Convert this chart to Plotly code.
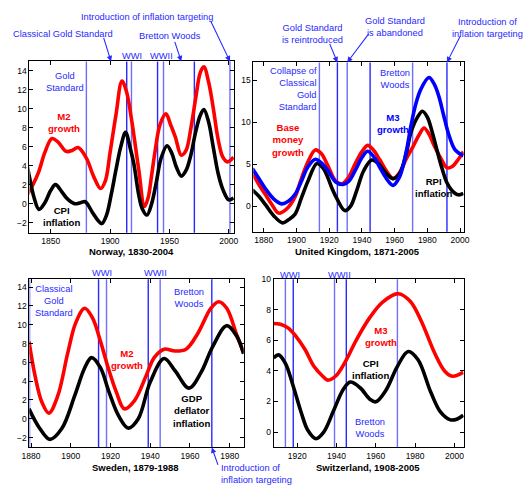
import plotly.graph_objects as go

W, H = 530, 485
FONT = "Liberation Sans, Arial, sans-serif"
BLUE = "rgb(40,40,255)"
LBLUE = "rgb(110,110,255)"

# ---------------- data ----------------
nor_m2_years = [1830, 1835, 1840, 1845, 1851, 1856, 1863, 1868, 1873, 1880, 1886, 1892, 1896, 1900, 1905,
                1910, 1914, 1918, 1924, 1929, 1932, 1935, 1938, 1942, 1947, 1951, 1955, 1960, 1964, 1968,
                1972, 1976, 1979, 1983, 1987, 1991, 1995, 1999, 2004]
nor_m2 = [0.9, 2.0, 3.4, 5.4, 6.85, 6.5, 5.5, 5.6, 5.9, 4.8, 2.9, 1.6, 2.4, 5.4, 9.4,
          12.9, 11.7, 8.9, 3.7, -0.3, 0.6, 3.0, 5.6, 8.3, 9.45, 8.3, 7.0, 5.1, 5.6, 7.9,
          11.0, 13.8, 14.4, 12.8, 10.0, 6.8, 4.9, 4.4, 4.9]
nor_cpi_years = [1830, 1833, 1836, 1840, 1845, 1850, 1854, 1859, 1864, 1870, 1875, 1879, 1885, 1890, 1893,
                 1897, 1901, 1905, 1909, 1913, 1917, 1920, 1924, 1927, 1931, 1935, 1939, 1943, 1948, 1952,
                 1956, 1960, 1964, 1968, 1972, 1976, 1979, 1983, 1987, 1991, 1995, 2000, 2004]
nor_cpi = [4.1, 2.2, 0.6, -0.6, 0.1, 1.4, 2.0, 1.3, 0.5, 0.0, 0.1, 0.2, -0.9, -1.8, -2.1,
           -1.2, 1.0, 3.6, 6.0, 7.5, 5.8, 4.2, 1.0, -0.5, -1.2, 0.0, 2.3, 4.8, 6.1, 5.3,
           3.8, 2.9, 3.5, 5.1, 7.5, 9.3, 9.9, 8.6, 5.9, 3.2, 1.5, 0.4, 0.6]
nor_events = [1880, 1914, 1918, 1940, 1945, 1971, 2001]

uk_base_years = [1873, 1877, 1881, 1885, 1889, 1894, 1899, 1903, 1907, 1911.5, 1915, 1919, 1924, 1928, 1932,
                 1936, 1940, 1943.5, 1947, 1951, 1955, 1959, 1963, 1967, 1971, 1975, 1978, 1981, 1984, 1988,
                 1992, 1995, 1999, 2002]
uk_base = [4.0, 2.6, 1.4, 0.2, -0.8, -0.3, 1.1, 3.3, 5.3, 6.7, 6.3, 4.9, 3.0, 2.7, 3.5,
           5.1, 6.5, 7.25, 6.7, 5.5, 4.2, 3.3, 4.0, 5.6, 7.0, 8.5, 9.3, 8.6, 7.3, 5.8,
           4.6, 4.7, 5.6, 6.5]
uk_m3_years = [1873, 1877, 1881, 1886, 1891, 1895, 1899, 1903, 1907, 1911.5, 1915, 1919, 1924, 1928.5, 1932,
               1936, 1940, 1943.5, 1948, 1951, 1955, 1959, 1963, 1967, 1970, 1973, 1976, 1981, 1984, 1987,
               1990, 1993, 1997, 2002]
uk_m3 = [4.5, 3.3, 2.1, 0.9, 0.3, 0.6, 1.4, 3.0, 4.7, 5.6, 5.2, 4.3, 2.9, 2.6, 3.0,
         4.3, 5.8, 6.55, 5.7, 4.6, 3.3, 2.5, 3.5, 6.4, 9.6, 12.2, 13.9, 15.3, 14.6, 13.1,
         10.8, 8.6, 6.7, 6.0]
uk_rpi_years = [1873, 1877, 1881, 1886, 1891.5, 1895, 1899, 1903, 1907, 1912.5, 1916, 1919, 1922, 1925, 1929.5,
                1933, 1937, 1941, 1946, 1950, 1954, 1959, 1963, 1967, 1970, 1974, 1977, 1980, 1983, 1986,
                1989, 1992, 1995, 1999, 2002]
uk_rpi = [1.96, 1.2, 0.2, -1.1, -1.96, -1.6, -0.95, 1.0, 3.0, 5.1, 4.6, 3.5, 2.0, 0.8, -0.5,
          0.0, 2.0, 4.2, 5.5, 5.1, 4.1, 3.3, 3.9, 6.2, 8.8, 10.6, 11.3, 10.6, 8.8, 6.6,
          4.5, 2.8, 1.9, 1.37, 1.55]
uk_events = [1914, 1925, 1931, 1945, 1971, 1992]

swe_m2_years = [1879, 1882, 1885.5, 1889, 1893.5, 1898.5, 1902.5, 1907, 1911, 1915, 1919, 1923, 1927, 1932, 1938,
                1942, 1947, 1952.5, 1958, 1964, 1970.5, 1974.5, 1978.5, 1983.5, 1987]
swe_m2 = [8.2, 4.6, 1.75, 0.6, 2.45, 7.0, 10.2, 11.75, 10.7, 8.2, 5.3, 2.8, 1.05, 1.9, 4.6,
          6.5, 7.4, 7.2, 7.4, 9.1, 11.75, 12.45, 11.75, 8.95, 7.0]
swe_gdp_years = [1879, 1884, 1889.5, 1895.5, 1902, 1907, 1910.5, 1915, 1919, 1924, 1929, 1934, 1940, 1947,
                 1952.5, 1959.5, 1965.5, 1971.5, 1978.5, 1983.5, 1987]
swe_gdp = [1.05, -0.9, -2.2, -1.05, 2.45, 5.4, 6.5, 5.4, 3.0, 0.35, -1.0, 0.0, 3.9, 6.4,
           5.1, 3.25, 4.9, 7.7, 9.9, 8.8, 6.9]
swe_events = [1879.3, 1914, 1918, 1939, 1945, 1971]

swi_m3_years = [1908, 1911.5, 1915.5, 1919.5, 1924, 1928.5, 1933, 1935.5, 1939.5, 1944.5, 1950, 1957, 1963.5,
                1971.5, 1977.5, 1983, 1990, 1995, 1999, 2004.5]
swi_m3 = [7.1, 7.05, 6.8, 6.25, 5.4, 4.3, 3.65, 3.4, 3.65, 4.6, 6.0, 7.5, 8.5,
          9.05, 8.55, 7.3, 5.15, 4.0, 3.65, 3.9]
swi_cpi_years = [1908, 1910.5, 1914, 1918, 1922, 1925.5, 1929.5, 1933.5, 1938.5, 1943.5, 1947, 1952, 1957,
                 1960, 1965, 1971, 1976.5, 1981.5, 1988, 1993, 1998, 2001.5, 2004.5]
swi_cpi = [4.85, 5.05, 4.5, 3.0, 1.3, 0.1, -0.43, 0.0, 1.4, 2.8, 3.27, 2.9, 2.15,
           1.98, 2.7, 4.3, 5.27, 4.73, 2.6, 1.3, 0.8, 0.86, 1.1]
swi_events = [1914, 1918, 1939, 1945, 1971]

# ---------------- layout geometry (pixels) ----------------
boxes = {  # left, right, top, bottom
    1: (22, 232, 57, 230),
    2: (252, 468, 58, 229),
    3: (22, 242, 277, 447),
    4: (273, 468, 277, 447),
}
xranges = {1: [1832, 2004.3], 2: [1873.6, 2002.2], 3: [1879.2, 1987.0], 4: [1908.1, 2004.7]}
yranges = {1: [-3.05, 14.97], 2: [-3.0, 17.1], 3: [-3.05, 14.85], 4: [-1.0, 10.0]}
xticks = {1: [1850, 1900, 1950, 2000], 2: list(range(1880, 2001, 20)),
          3: list(range(1880, 1981, 20)), 4: list(range(1920, 2001, 20))}
yticks = {1: list(range(-2, 15, 2)), 2: [0, 5, 10, 15], 3: list(range(-2, 15, 2)), 4: list(range(0, 11, 2))}

fig = go.Figure()

def add_line(k, xs, ys, color):
    fig.add_trace(go.Scatter(x=xs, y=ys, mode="lines", line=dict(color=color, width=3.6, shape="spline", smoothing=1.0),
                             xaxis="x" if k == 1 else f"x{k}", yaxis="y" if k == 1 else f"y{k}",
                             showlegend=False, hoverinfo="skip"))

add_line(1, nor_m2_years, nor_m2, "red")
add_line(1, nor_cpi_years, nor_cpi, "black")
add_line(2, uk_base_years, uk_base, "red")
add_line(2, uk_rpi_years, uk_rpi, "black")
add_line(2, uk_m3_years, uk_m3, "blue")
add_line(3, swe_m2_years, swe_m2, "red")
add_line(3, swe_gdp_years, swe_gdp, "black")
add_line(4, swi_m3_years, swi_m3, "red")
add_line(4, swi_cpi_years, swi_cpi, "black")

shapes = []
for k, evs in [(1, nor_events), (2, uk_events), (3, swe_events), (4, swi_events)]:
    xr = "x" if k == 1 else f"x{k}"
    yr = "y domain" if k == 1 else f"y{k} domain"
    for i, e in enumerate(evs):
        col = BLUE if i % 2 else LBLUE
        shapes.append(dict(type="line", xref=xr, yref=yr, x0=e, x1=e, y0=0, y1=1,
                           line=dict(color=col, width=1.4), layer="below"))

axis_common = dict(showline=True, linecolor="black", linewidth=1, mirror="ticks", ticks="inside",
                   ticklen=4, tickcolor="black", showgrid=False, zeroline=False,
                   tickfont=dict(size=8.5, color="black", family=FONT))
layout = dict(width=W, height=H, margin=dict(l=0, r=0, t=0, b=0), paper_bgcolor="white",
              plot_bgcolor="white", font=dict(family=FONT), showlegend=False, shapes=shapes)
for k, (l, r, t, b) in boxes.items():
    xs = "xaxis" if k == 1 else f"xaxis{k}"
    ys = "yaxis" if k == 1 else f"yaxis{k}"
    xa = "x" if k == 1 else f"x{k}"
    ya = "y" if k == 1 else f"y{k}"
    layout[xs] = dict(axis_common, domain=[l / W, r / W], range=xranges[k], tickvals=xticks[k], anchor=ya)
    layout[ys] = dict(axis_common, domain=[1 - b / H, 1 - t / H], range=yranges[k], tickvals=yticks[k], anchor=xa)
fig.update_layout(**layout)

ann = []

def ptext(x, y, text, color=BLUE, size=9.3, bold=False, xanchor="center", align="center"):
    if bold:
        text = "<b>" + text + "</b>"
    ann.append(dict(x=x / W, y=1 - y / H, xref="paper", yref="paper", text=text, showarrow=False,
                    xanchor=xanchor, yanchor="middle", align=align,
                    font=dict(size=size, color=color, family=FONT)))

def dtext(k, x, y, text, color=BLUE, size=9.3, bold=False, xanchor="center", align="center"):
    if bold:
        text = "<b>" + text + "</b>"
    ann.append(dict(x=x, y=y, xref="x" if k == 1 else f"x{k}", yref="y" if k == 1 else f"y{k}",
                    text=text, showarrow=False, xanchor=xanchor, yanchor="middle", align=align,
                    font=dict(size=size, color=color, family=FONT)))

def arrow(k, year, edge_y, tail_x, tail_y, head_px):
    ann.append(dict(x=year, y=1 - edge_y / H, xref="x" if k == 1 else f"x{k}", yref="paper", text="",
                    showarrow=True, arrowhead=2, arrowsize=1, arrowwidth=1.1, arrowcolor=BLUE,
                    ax=tail_x - head_px, ay=tail_y - edge_y, axref="pixel", ayref="pixel"))

def xpx(k, year):
    l, r, _, _ = boxes[k]
    a, b = xranges[k]
    return l + (year - a) / (b - a) * (r - l)

# Norway
ptext(143, 12, "Introduction of inflation targeting")
ptext(57, 29, "Classical Gold Standard")
ptext(166, 31, "Bretton Woods")
ptext(127, 52, "WWI")
ptext(158, 52, "WWII")
arrow(1, 2001, 57, 208, 15, xpx(1, 2001))
arrow(1, 1900.8, 57, 98, 32, xpx(1, 1900.8))
arrow(1, 1960, 57, 171, 36, xpx(1, 1960))
dtext(1, 1862, 12.8, "Gold<br>Standard")
dtext(1, 1861.5, 8.5, "M2<br>growth", color="red", size=9.6, bold=True)
dtext(1, 1859, -1.3, "CPI<br>inflation", color="black", size=9.6, bold=True)
ptext(127, 249, "Norway, 1830-2004", color="black", size=9.5, bold=True)

# UK
ptext(313, 29, "Gold Standard<br>is reintroduced")
ptext(398, 22, "Gold Standard<br>is abandoned")
ptext(493, 23, "Introduction of<br>inflation targeting")
arrow(2, 1925, 58, 330, 38, xpx(2, 1925))
arrow(2, 1931, 58, 371, 28, xpx(2, 1931))
arrow(2, 1992, 58, 465, 30, xpx(2, 1992))
dtext(2, 1913.5, 14.0, "Collapse of<br>Classical<br>Gold<br>Standard", xanchor="right", align="right")
dtext(2, 1960, 15.1, "Bretton<br>Woods")
dtext(2, 1958.8, 9.9, "M3<br>growth", color="blue", size=9.6, bold=True)
dtext(2, 1895, 7.9, "Base<br>money<br>growth", color="red", size=9.6, bold=True)
dtext(2, 1983.8, 2.3, "RPI<br>inflation", color="black", size=9.6, bold=True)
ptext(359, 249, "United Kingdom, 1871-2005", color="black", size=9.5, bold=True)

# Sweden
ptext(97, 271, "WWI")
ptext(152, 271, "WWII")
dtext(3, 1891.5, 12.5, "Classical<br>Gold<br>Standard")
dtext(3, 1959.6, 12.8, "Bretton<br>Woods")
dtext(3, 1928.2, 6.25, "M2<br>growth", color="red", size=9.6, bold=True)
dtext(3, 1961, 0.87, "GDP<br>deflator<br>inflation", color="black", size=9.6, bold=True)
ptext(217, 473.5, "Introduction of<br>inflation targeting", xanchor="left", align="left")
arrow(3, 1971, 447, 216, 466, xpx(3, 1971))
ptext(131, 467, "Sweden, 1879-1988", color="black", size=9.5, bold=True)

# Switzerland
ptext(290, 273, "WWI")
ptext(341, 273, "WWII")
dtext(4, 1962.6, 6.25, "M3<br>growth", color="red", size=9.6, bold=True)
dtext(4, 1957.5, 4.1, "CPI<br>inflation", color="black", size=9.6, bold=True)
dtext(4, 1957, 0.25, "Bretton<br>Woods")
ptext(370, 467, "Switzerland, 1908-2005", color="black", size=9.5, bold=True)

fig.update_layout(annotations=ann)
fig.write_html("out.html")
